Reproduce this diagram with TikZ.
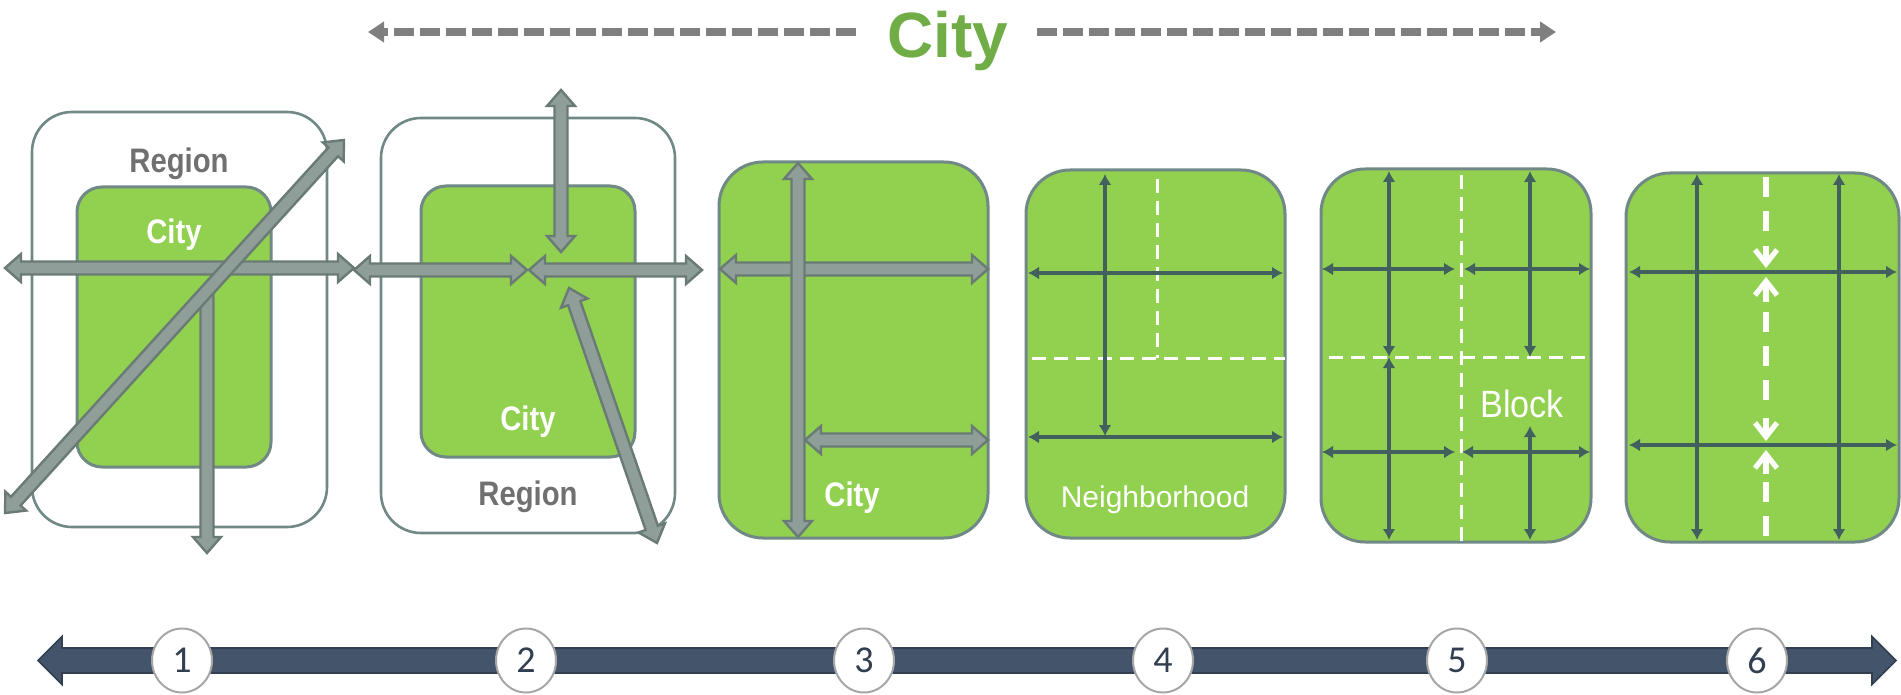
\documentclass[tikz,border=0pt]{standalone}
\usepackage{fontspec}
\setmainfont{Liberation Sans}
\newfontfamily\condfont[FakeStretch=0.86]{Liberation Sans}
\newfontfamily\narrowfont[FakeStretch=0.9]{Liberation Sans}
\newfontfamily\digitfont{Carlito}
\usetikzlibrary{arrows.meta, calc, shapes.geometric}

\definecolor{panelgreen}{RGB}{146,208,80}
\definecolor{panelline}{RGB}{112,136,134}
\definecolor{roadfill}{RGB}{143,158,152}
\definecolor{roadedge}{RGB}{106,122,116}
\definecolor{streetdark}{RGB}{66,96,94}
\definecolor{regiongray}{RGB}{112,112,112}
\definecolor{titlegreen}{RGB}{112,173,71}
\definecolor{dashgray}{RGB}{127,127,127}
\definecolor{lineblue}{RGB}{68,84,106}
\definecolor{lineedge}{RGB}{50,63,80}
\definecolor{circlegray}{RGB}{166,166,166}
\definecolor{digitblue}{RGB}{50,63,80}

% wide arrow with a head at both ends
\newcommand\fatarrow[3][]{%
  \path[#1] (#2) -- ($(#2)!\arrhl!(#3)!\arrhw!-90:(#3)$)
    -- ($(#2)!\arrhl!(#3)!\arrsw!-90:(#3)$)
    -- ($(#3)!\arrhl!(#2)!\arrsw!90:(#2)$)
    -- ($(#3)!\arrhl!(#2)!\arrhw!90:(#2)$)
    -- (#3)
    -- ($(#3)!\arrhl!(#2)!\arrhw!-90:(#2)$)
    -- ($(#3)!\arrhl!(#2)!\arrsw!-90:(#2)$)
    -- ($(#2)!\arrhl!(#3)!\arrsw!90:(#3)$)
    -- ($(#2)!\arrhl!(#3)!\arrhw!90:(#3)$) -- cycle;}
% wide arrow with a head at the end only
\newcommand\fatarrowend[3][]{%
  \path[#1] ($(#2)!\arrsw!-90:(#3)$)
    -- ($(#3)!\arrhl!(#2)!\arrsw!90:(#2)$)
    -- ($(#3)!\arrhl!(#2)!\arrhw!90:(#2)$)
    -- (#3)
    -- ($(#3)!\arrhl!(#2)!\arrhw!-90:(#2)$)
    -- ($(#3)!\arrhl!(#2)!\arrsw!-90:(#2)$)
    -- ($(#2)!\arrsw!90:(#3)$) -- cycle;}

\begin{document}
\begin{tikzpicture}[x=0.5pt, y=-0.5pt,
    arr shaft/.store in=\arrsw, arr head/.store in=\arrhw, arr len/.store in=\arrhl,
    road/.style={fill=roadfill, draw=roadedge, line width=1.2pt, arr shaft=3.25pt, arr head=7pt, arr len=8pt},
    timeline/.style={fill=lineblue, draw=lineedge, line width=0.8pt, arr shaft=6.25pt, arr head=12pt, arr len=12pt},
    region/.style={draw=panelline, line width=1.3pt, fill=white, rounded corners=20pt, inner sep=0pt},
    city/.style={draw=panelline, line width=1.5pt, fill=panelgreen, rounded corners=22pt, inner sep=0pt},
    street/.style={draw=streetdark, line width=1.8pt, <->, >={Latex[length=5.5pt,width=6.5pt]}},
    border/.style={draw=white, line width=1.5pt, dash pattern=on 7pt off 4pt},
    median/.style={draw=white, line width=2.8pt, dash pattern=on 10pt off 7pt},
    chevron/.style={draw=white, line width=2.6pt, -{Straight Barb[length=7pt,width=11pt]}},
    guide/.style={draw=dashgray, line width=4pt, dash pattern=on 10pt off 3pt, -{Triangle[length=8pt,width=10pt]}},
    bigtext/.style={font=\condfont\bfseries\fontsize{17pt}{20pt}\selectfont, anchor=base, inner sep=0pt},
    smalltext/.style={text=white, anchor=base, inner sep=0pt},
    steplabel/.style={ellipse, draw=circlegray, line width=1pt, fill=white, minimum width=30pt,
        minimum height=32pt, inner sep=0pt, text=digitblue, font=\digitfont\fontsize{19pt}{22pt}\selectfont}
  ]
    \useasboundingbox (0,0) rectangle (1901,695);

    % Title with its dashed span
    \node[anchor=base, inner sep=0pt, text=titlegreen, font=\bfseries\fontsize{32pt}{36pt}\selectfont] (title) at (948,58) {City};
    \draw[guide] (856,32) -- (368,32);
    \draw[guide] (1037,32) -- (1556,32);

    % Panel 1
    \node[region, minimum width=147.5pt, minimum height=207.5pt] (R1) at (179.5,319.5) {};
    \node[city, rounded corners=12.5pt, minimum width=97pt, minimum height=140pt] (C1) at (174,327) {};
    \node[bigtext, text=regiongray] (R1t) at (179,173) {Region};
    \node[bigtext, text=white] (C1t) at (174,244) {City};
    \fatarrow[road]{5,268}{354,268}
    \fatarrowend[road]{207,295}{207,553}
    \fatarrow[road]{5,513}{344,140}

    % Panel 2
    \node[region, minimum width=147pt, minimum height=207.5pt] (R2) at (528,325.5) {};
    \node[city, rounded corners=12.5pt, minimum width=107pt, minimum height=135.5pt] (C2) at (528,321.5) {};
    \node[bigtext, text=white] (C2t) at (528,430) {City};
    \node[bigtext, text=regiongray] (R2t) at (528,505) {Region};
    \fatarrow[road]{561,90}{561,252}
    \fatarrow[road]{354,270}{527,270}
    \fatarrow[road]{529,270}{702,270}
    \fatarrow[road]{569,288}{657,543}

    % Panel 3
    \node[city, minimum width=134.5pt, minimum height=188pt] (P3) at (853.5,350) {};
    \node[bigtext, text=white] (P3t) at (852,506) {City};
    \fatarrow[road]{720,269}{988,269}
    \fatarrow[road]{805,440}{988,440}
    \fatarrow[road]{798,163}{798,537}

    % Panel 4
    \node[city, minimum width=129.5pt, minimum height=184pt] (P4) at (1155.5,354) {};
    \node[smalltext, font=\fontsize{15pt}{18pt}\selectfont] (P4t) at (1155,507) {Neighborhood};
    \draw[border] (1157,179) -- (1157,358);
    \draw[border] (1032,358) -- (1285,358);
    \draw[street] (1105,174) -- (1105,436);
    \draw[street] (1028,273) -- (1283,273);
    \draw[street] (1028,437) -- (1283,437);

    % Panel 5
    \node[city, minimum width=135pt, minimum height=186.5pt] (P5) at (1456,355.5) {};
    \node[smalltext, font=\narrowfont\fontsize{19pt}{22pt}\selectfont] (P5t) at (1522,417) {Block};
    \draw[border] (1461,175) -- (1461,542);
    \draw[border] (1329,357) -- (1591,357);
    \draw[street] (1389,171) -- (1389,357);
    \draw[street] (1389,357) -- (1389,540);
    \draw[street] (1530,171) -- (1530,357);
    \draw[street] (1530,426) -- (1530,540);
    \draw[street] (1322,269) -- (1455,269);
    \draw[street] (1464,269) -- (1590,269);
    \draw[street] (1322,452) -- (1455,452);
    \draw[street] (1462,452) -- (1590,452);

    % Panel 6
    \node[city, minimum width=136.5pt, minimum height=184.5pt] (P6) at (1762.5,357.5) {};
    \draw[median] (1766,177) -- (1766,236);
    \draw[median] (1766,312) -- (1766,408);
    \draw[median] (1766,482) -- (1766,542);
    \draw[street] (1697,174) -- (1697,540);
    \draw[street] (1839,174) -- (1839,540);
    \draw[street] (1629,272) -- (1897,272);
    \draw[street] (1629,445) -- (1897,445);
    \draw[chevron] (1766,246) -- (1766,268);
    \draw[chevron] (1766,302) -- (1766,277);
    \draw[chevron] (1766,418) -- (1766,441);
    \draw[chevron] (1766,474) -- (1766,450);

    % Steps along the bottom
    \fatarrow[timeline]{38,660.5}{1896,660.5}
    \foreach \n/\x in {1/182, 2/526, 3/864, 4/1163, 5/1457, 6/1757}
        \node[steplabel] (T\n) at (\x,660.5) {\n};
\end{tikzpicture}
\end{document}
